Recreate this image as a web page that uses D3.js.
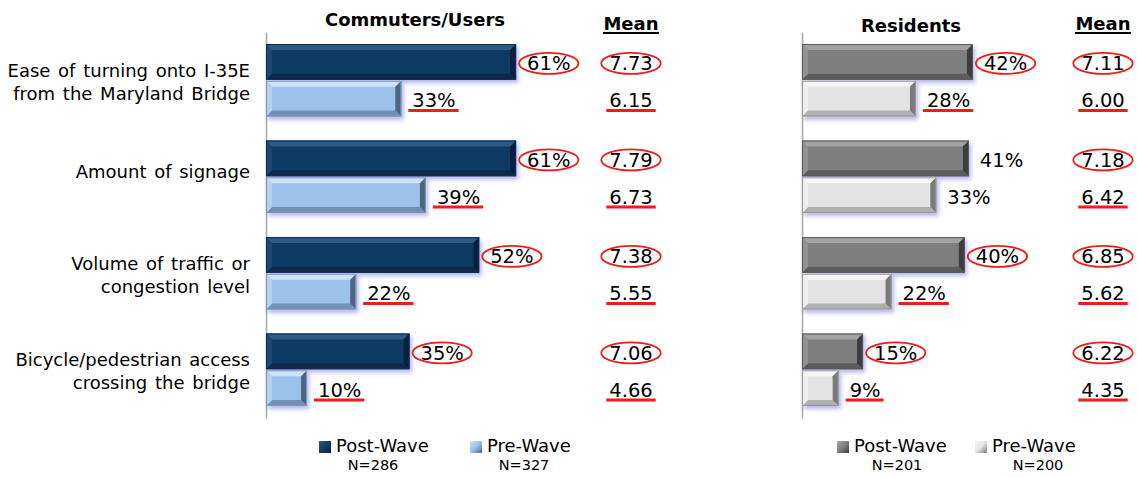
<!DOCTYPE html>
<html>
<head>
<meta charset="utf-8">
<script src="https://cdn.jsdelivr.net/npm/d3@7"></script>
<style>
  body { margin: 0; background: #fff; }
  svg { display: block; font-family: "DejaVu Sans", Verdana, sans-serif; }
</style>
</head>
<body>
<div id="chart"></div>
<script>
// ---- data ----
var categoryLines = [
  ["Ease of turning onto I-35E", "from the Maryland Bridge"],
  ["Amount of signage"],
  ["Volume of traffic or", "congestion level"],
  ["Bicycle/pedestrian access", "crossing the bridge"]
];
var categories = ["ease", "signage", "volume", "bicycle"];
var seriesNames = ["Post-Wave", "Pre-Wave"];

var commPost = [61, 61, 52, 35];
var commPre = [33, 39, 22, 10];
var commMeanPost = ["7.73", "7.79", "7.38", "7.06"];
var commMeanPre = ["6.15", "6.73", "5.55", "4.66"];
var commMarked = [true, true, true, true];
var commN = ["N=286", "N=327"];

var resPost = [42, 41, 40, 15];
var resPre = [28, 33, 22, 9];
var resMeanPost = ["7.11", "7.18", "6.85", "6.22"];
var resMeanPre = ["6.00", "6.42", "5.62", "4.35"];
var resMarked = [true, false, true, true];
var resN = ["N=201", "N=200"];

var width = 1138, height = 477;

var svg = d3.select('#chart').append('svg')
  .attr('width', width)
  .attr('height', height);

var defs = svg.append('defs');
var shadow = defs.append('filter').attr('id', 'shadow')
  .attr('x', '-10%').attr('y', '-20%').attr('width', '130%').attr('height', '160%');
shadow.append('feDropShadow')
  .attr('dx', 2).attr('dy', 3).attr('stdDeviation', 2)
  .attr('flood-color', '#5a5ad0').attr('flood-opacity', 0.45);

// category band scale shared by both panels
var yScale = d3.scaleBand()
  .domain(categories)
  .range([32, 418])
  .paddingInner(0.25)
  .paddingOuter(0.125);

var ySeries = d3.scaleBand()
  .domain(seriesNames)
  .range([0, yScale.bandwidth()])
  .paddingInner(0.03);

// bevelled bar: main face plus four edge polygons
function bevelBar(g, x0, x1, y0, h, c) {
  var w = x1 - x0;
  var b = Math.min(6, w / 2, h / 2);
  var x2 = x0 + w, y2 = y0 + h;
  var bar = g.append('g').attr('filter', 'url(#shadow)');
  bar.append('rect').attr('x', x0).attr('y', y0).attr('width', w).attr('height', h).attr('fill', c.face);
  var poly = function (pts, fill) {
    bar.append('polygon').attr('points', pts.map(p => p.join(',')).join(' ')).attr('fill', fill);
  };
  poly([[x0, y0], [x2, y0], [x2 - b, y0 + b], [x0 + b, y0 + b]], c.top);
  poly([[x0, y2], [x2, y2], [x2 - b, y2 - b], [x0 + b, y2 - b]], c.bottom);
  poly([[x0, y0], [x0 + b, y0 + b], [x0 + b, y2 - b], [x0, y2]], c.left);
  poly([[x2, y0], [x2 - b, y0 + b], [x2 - b, y2 - b], [x2, y2]], c.right);
  bar.append('rect').attr('x', x0 + 0.5).attr('y', y0 + 0.5).attr('width', w - 1).attr('height', h - 1)
    .attr('fill', 'none').attr('stroke', c.edge).attr('stroke-width', 1);
}

function drawPanel(p) {
  var g = svg.append('g');
  var xScale = d3.scaleLinear().domain([0, 100]).range(p.xRange);

  // axis line
  g.append('g')
    .attr('transform', 'translate(' + p.xRange[0] + ',0)')
    .call(d3.axisLeft(yScale).tickSize(0).tickFormat(''))
    .select('.domain').attr('stroke', '#a6a6a6').attr('stroke-width', 1.5);

  // titles
  g.append('text')
    .attr('x', p.titleX).attr('y', p.titleY)
    .attr('text-anchor', 'middle')
    .style('font-weight', 'bold').style('font-size', '18px')
    .text(p.title);
  g.append('text')
    .attr('x', p.meanX).attr('y', 30)
    .attr('text-anchor', 'middle')
    .style('font-weight', 'bold').style('font-size', '18px')
    .text('Mean');
  g.append('line')
    .attr('x1', p.meanX - 28).attr('x2', p.meanX + 28)
    .attr('y1', 33).attr('y2', 33)
    .attr('stroke', '#000').attr('stroke-width', 1.8);

  var sets = [
    { name: seriesNames[0], values: p.post, means: p.meanPost, colors: p.colors[0] },
    { name: seriesNames[1], values: p.pre, means: p.meanPre, colors: p.colors[1] }
  ];

  sets.forEach(function (s, si) {
    s.values.forEach(function (v, i) {
      var y0 = yScale(categories[i]) + ySeries(s.name);
      var h = ySeries.bandwidth();
      var cy = y0 + h / 2;
      bevelBar(g, xScale(0), xScale(v), y0, h, s.colors);

      // value label
      var lbl = g.append('text')
        .attr('x', xScale(v) + 11).attr('y', cy + 8.5)
        .style('font-size', '19.5px')
        .text(v + '%');
      var tw = lbl.node().getComputedTextLength();
      if (p.marked[i]) {
        if (si === 0) {
          g.append('ellipse')
            .attr('cx', xScale(v) + 11 + tw / 2).attr('cy', cy + 1.5)
            .attr('rx', tw / 2 + 8).attr('ry', 10.5)
            .attr('fill', 'none').attr('stroke', '#ee1c1c').attr('stroke-width', 1.8);
        } else {
          g.append('line')
            .attr('x1', xScale(v) + 7).attr('x2', xScale(v) + 14 + tw)
            .attr('y1', cy + 12).attr('y2', cy + 12)
            .attr('stroke', '#ee1c1c').attr('stroke-width', 3);
        }
      }

      // mean value
      var m = g.append('text')
        .attr('x', p.meanX).attr('y', cy + 8.5)
        .attr('text-anchor', 'middle')
        .style('font-size', '19.5px')
        .text(s.means[i]);
      var mw = m.node().getComputedTextLength();
      if (si === 0) {
        g.append('ellipse')
          .attr('cx', p.meanX).attr('cy', cy + 1.5)
          .attr('rx', mw / 2 + 8).attr('ry', 10.5)
          .attr('fill', 'none').attr('stroke', '#ee1c1c').attr('stroke-width', 1.8);
      } else {
        g.append('line')
          .attr('x1', p.meanX - mw / 2 - 3).attr('x2', p.meanX + mw / 2 + 3)
          .attr('y1', cy + 12).attr('y2', cy + 12)
          .attr('stroke', '#ee1c1c').attr('stroke-width', 3);
      }
    });

    // legend
    var lx = p.legendX[si];
    var sq = s.colors;
    var lg = defs.append('linearGradient').attr('id', 'lg' + p.id + si)
      .attr('x1', 0).attr('y1', 0).attr('x2', 1).attr('y2', 1);
    lg.append('stop').attr('offset', '0%').attr('stop-color', sq.top);
    lg.append('stop').attr('offset', '50%').attr('stop-color', sq.face);
    lg.append('stop').attr('offset', '100%').attr('stop-color', sq.right);
    g.append('rect')
      .attr('x', lx).attr('y', 441).attr('width', 12).attr('height', 12)
      .attr('fill', 'url(#lg' + p.id + si + ')');
    g.append('text')
      .attr('x', lx + 17).attr('y', 452)
      .style('font-size', '18px')
      .text(s.name);
    g.append('text')
      .attr('x', p.nX[si]).attr('y', 470)
      .attr('text-anchor', 'middle')
      .style('font-size', '14.5px')
      .text(p.n[si]);
  });
}

// category labels (left side)
var catG = svg.append('g');
categoryLines.forEach(function (lines, i) {
  var cy = yScale(categories[i]) + yScale.bandwidth() / 2;
  var first = cy + 8 - (lines.length - 1) * 11.5 - (lines.length === 1 ? 7 : 0);
  lines.forEach(function (line, j) {
    catG.append('text')
      .attr('x', 250).attr('y', first + j * 23)
      .attr('text-anchor', 'end')
      .style('font-size', '18px')
      .style('word-spacing', '2px')
      .text(line);
  });
});

drawPanel({
  id: 'c',
  title: 'Commuters/Users', titleX: 415, titleY: 26,
  xRange: [266, 676],
  meanX: 631,
  post: commPost, pre: commPre,
  meanPost: commMeanPost, meanPre: commMeanPre,
  marked: commMarked,
  n: commN,
  legendX: [319, 470], nX: [373, 524],
  colors: [
    { face: '#0f3b64', top: '#2d5a83', bottom: '#082b4c', left: '#1a4670', right: '#06233f', edge: '#0a2f52' },
    { face: '#9cc2ea', top: '#cfe3f8', bottom: '#6f90b4', left: '#b3d1f0', right: '#4d6580', edge: '#7c98b8' }
  ]
});

drawPanel({
  id: 'r',
  title: 'Residents', titleX: 911, titleY: 32,
  xRange: [802, 1209],
  meanX: 1103,
  post: resPost, pre: resPre,
  meanPost: resMeanPost, meanPre: resMeanPre,
  marked: resMarked,
  n: resN,
  legendX: [837, 975], nX: [897, 1038],
  colors: [
    { face: '#7f7f7f', top: '#a3a3a3', bottom: '#5c5c5c', left: '#929292', right: '#3c3c3c', edge: '#5a5a5a' },
    { face: '#e3e3e3', top: '#f7f7f7', bottom: '#b0b0b0', left: '#eeeeee', right: '#7a7a7a', edge: '#9a9a9a' }
  ]
});
</script>
</body>
</html>
